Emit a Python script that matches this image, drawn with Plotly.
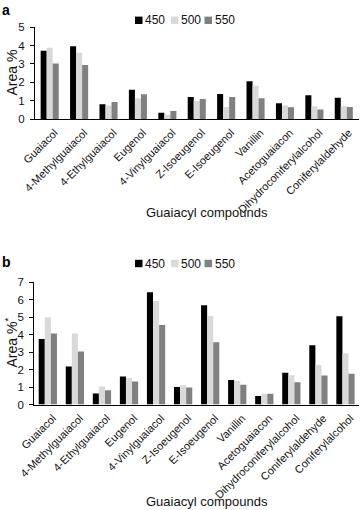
import plotly.graph_objects as go

# ---------------- data ----------------
series_names = ["450", "500", "550"]
series_colors = ["#000000", "#d9d9d9", "#808080"]

cats_a = ["Guaiacol", "4-Methylguaiacol", "4-Ethylguaiacol", "Eugenol", "4-Vinylguaiacol",
          "Z-Isoeugenol", "E-Isoeugenol", "Vanillin", "Acetoguaiacon",
          "Dihydroconiferylalcohol", "Coniferylaldehyde"]
a_450 = [3.72, 3.96, 0.81, 1.60, 0.34, 1.20, 1.36, 2.06, 0.86, 1.29, 1.16]
a_500 = [3.88, 3.63, 0.73, 1.13, 0.23, 0.99, 0.66, 1.81, 0.74, 0.70, 0.70]
a_550 = [3.02, 2.94, 0.93, 1.35, 0.43, 1.09, 1.20, 1.13, 0.64, 0.52, 0.66]

cats_b = ["Guaiacol", "4-Methylguaiacol", "4-Ethylguaiacol", "Eugenol", "4-Vinylguaiacol",
          "Z-Isoeugenol", "E-Isoeugenol", "Vanillin", "Acetoguaiacon",
          "Dihydroconiferylalcohol", "Coniferylaldehyde", "Coniferylalcohol"]
b_450 = [3.75, 2.18, 0.63, 1.60, 6.43, 1.00, 5.68, 1.40, 0.48, 1.82, 3.40, 5.05]
b_500 = [5.00, 4.06, 1.03, 1.52, 5.93, 1.10, 5.07, 1.35, 0.61, 1.67, 2.26, 2.93]
b_550 = [4.06, 3.03, 0.81, 1.32, 4.56, 0.98, 3.56, 1.13, 0.62, 1.28, 1.66, 1.76]

y_ticks_a = [0, 1, 2, 3, 4, 5]
y_ticks_b = [0, 1, 2, 3, 4, 5, 6, 7]

x_title = "Guaiacyl compounds"
y_title_a = "Area %"
y_title_b = "Area %<sup>*</sup>"

# ---------------- figure ----------------
W, H = 360, 510
FONT = "Liberation Sans, Arial, sans-serif"
TXT = "#111111"

def px_x(p):
    return p / W

def px_y(p):
    return 1 - p / H

fig = go.Figure()

panels = [
    (cats_a, [a_450, a_500, a_550], "x", "y", 0.205),
    (cats_b, [b_450, b_500, b_550], "x2", "y2", 0.225),
]
for cats, vals, xa, ya, w in panels:
    for i, (name, col, v) in enumerate(zip(series_names, series_colors, vals)):
        fig.add_trace(go.Bar(
            x=cats, y=v, name=name, marker=dict(color=col, line=dict(width=0)),
            width=w, offset=-1.5 * w + i * w,
            xaxis=xa, yaxis=ya, showlegend=False,
        ))

common_x = dict(showline=True, linecolor="black", linewidth=1, ticks="", showgrid=False,
                zeroline=False, tickangle=-45, tickfont=dict(family=FONT, size=11, color=TXT),
                type="category", automargin=False, ticklabelstandoff=2, ticklabelshift=5)
common_y = dict(showline=True, linecolor="black", linewidth=1, ticks="outside", ticklen=4,
                tickcolor="black", showgrid=False, zeroline=False, automargin=False,
                tickfont=dict(family=FONT, size=11.5, color=TXT), ticklabelstandoff=3)

fig.update_layout(
    width=W, height=H,
    margin=dict(l=0, r=0, t=0, b=0, pad=0, autoexpand=False),
    paper_bgcolor="white", plot_bgcolor="white",
    barmode="group",
    showlegend=False,
    xaxis=dict(domain=[px_x(35), px_x(358.5)], anchor="y", range=[-0.5, 10.5], **common_x),
    yaxis=dict(domain=[px_y(119), px_y(27.3)], anchor="x", range=[0, 5],
               tickvals=y_ticks_a, **common_y),
    xaxis2=dict(domain=[px_x(34.3), px_x(359)], anchor="y2", range=[-0.5, 11.5], **common_x),
    yaxis2=dict(domain=[px_y(404.5), px_y(282.3)], anchor="x2", range=[0, 7],
                tickvals=y_ticks_b, **common_y),
)

ann = []
shapes = []
# panel letters
ann.append(dict(text="<b>a</b>", x=px_x(0), y=px_y(10), xref="paper", yref="paper",
                xanchor="left", yanchor="middle", showarrow=False,
                font=dict(family=FONT, size=14, color="black")))
ann.append(dict(text="<b>b</b>", x=px_x(0), y=px_y(262), xref="paper", yref="paper",
                xanchor="left", yanchor="middle", showarrow=False,
                font=dict(family=FONT, size=14, color="black")))
# axis titles
for ytitle, yc in [(y_title_a, 73), (y_title_b, 343)]:
    ann.append(dict(text=ytitle, x=px_x(11.5), y=px_y(yc), xref="paper", yref="paper",
                    xanchor="center", yanchor="middle", textangle=-90, showarrow=False,
                    font=dict(family=FONT, size=14, color=TXT)))
for yc in [212, 501.5]:
    ann.append(dict(text=x_title, x=px_x(207.5), y=px_y(yc), xref="paper", yref="paper",
                    xanchor="center", yanchor="middle", showarrow=False,
                    font=dict(family=FONT, size=13, color=TXT)))
# legends (square swatch + label)
sq_x = [135, 171, 204.5]
for ly in [20.3, 263.5]:
    for name, col, sx in zip(series_names, series_colors, sq_x):
        shapes.append(dict(type="rect", xref="paper", yref="paper",
                           x0=px_x(sx), x1=px_x(sx + 7.5), y0=px_y(ly + 3.7), y1=px_y(ly - 3.7),
                           fillcolor=col, line=dict(width=0)))
        ann.append(dict(text=name, x=px_x(sx + 8), y=px_y(ly), xref="paper", yref="paper",
                        xanchor="left", yanchor="middle", showarrow=False,
                        font=dict(family=FONT, size=12, color=TXT)))

fig.update_layout(annotations=ann, shapes=shapes)

fig.write_html("out.html", config={"displayModeBar": False},
               post_script="document.body.style.margin='0';document.body.style.padding='0';")
